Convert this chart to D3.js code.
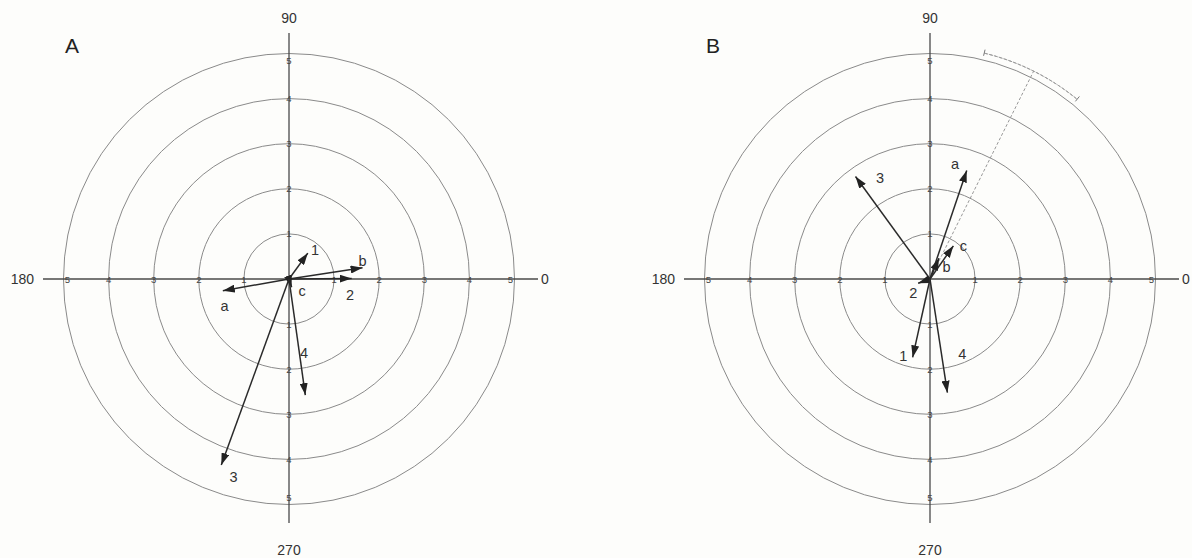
<!DOCTYPE html>
<html><head><meta charset="utf-8">
<script src="https://cdn.jsdelivr.net/npm/d3@7"></script>
<style>html,body{margin:0;padding:0;background:#fdfdfb;}svg{display:block;}</style>
</head><body>
<svg id="chart" width="1192" height="558"></svg>
<script>
// ---- data ----
const ringValues = [1, 2, 3, 4, 5];
const tickLabels = ["1", "2", "3", "4", "5"];
const directionLabels = ["0", "90", "180", "270"];
const panelNames = ["A", "B"];

// Panel A vectors: magnitude, direction (degrees)
const vecNamesA = ["1", "b", "2", "a", "c", "4", "3"];
const vecMagA   = [0.71, 1.65, 1.39, 1.49, 0.19, 2.60, 4.39];
const vecAngA   = [54, 8.7, 0.5, 190, 288, 278, 250];
// label anchor in polar data coords
const lblMagA   = [0.86, 1.68, 1.40, 1.55, 0.39, 1.68, 4.55];
const lblAngA   = [48, 14, 345, 202.6, 318.7, 281.4, 254.3];

// Panel B vectors
const vecNamesB = ["3", "a", "c", "b", "2", "1", "4"];
const vecMagB   = [2.81, 2.54, 0.90, 0.50, 0.28, 1.78, 2.55];
const vecAngB   = [126, 71.3, 54.8, 66.5, 200, 257.5, 278.7];
const lblMagB   = [2.49, 2.62, 1.04, 0.45, 0.49, 1.81, 1.81];
const lblAngB   = [116.4, 77.8, 44.7, 35, 221, 250.9, 293.3];

// Panel B mean direction with dispersion arc
const meanAngB = 63.5;
const meanArcRange = [50.7, 76.5];
const meanArcRadius = 5.15;

// ---- drawing ----
const svg = d3.select("#chart");
const centers = [[289, 279], [930, 279]];
const r = d3.scaleLinear().domain([0, 5]).range([0, 225.5]);
const axisExt = 246;
const FONT = "Liberation Sans, Arial, sans-serif";

const defs = svg.append("defs");
defs.append("marker").attr("id", "head")
  .attr("viewBox", "0 0 12 8").attr("refX", 12).attr("refY", 4)
  .attr("markerWidth", 12).attr("markerHeight", 8)
  .attr("markerUnits", "userSpaceOnUse").attr("orient", "auto")
  .append("path").attr("d", "M0,0 L12,4 L0,8 Z").attr("fill", "#222");

function pol(m, deg) {
  const a = deg * Math.PI / 180;
  return [r(m) * Math.cos(a), -r(m) * Math.sin(a)];
}

const panels = [
  {name: panelNames[0], names: vecNamesA, mag: vecMagA, ang: vecAngA, lm: lblMagA, la: lblAngA},
  {name: panelNames[1], names: vecNamesB, mag: vecMagB, ang: vecAngB, lm: lblMagB, la: lblAngB}
];

panels.forEach((p, i) => {
  const [cx, cy] = centers[i];
  const g = svg.append("g").attr("transform", `translate(${cx},${cy})`);

  // rings
  g.selectAll("circle.ring").data(ringValues).enter().append("circle")
    .attr("r", d => r(d)).attr("fill", "none")
    .attr("stroke", "#8a8a8a").attr("stroke-width", 1);

  // axes
  g.append("line").attr("x1", -axisExt).attr("x2", axisExt + 3).attr("y1", 0).attr("y2", 0)
    .attr("stroke", "#4a4a4a").attr("stroke-width", 1.3);
  g.append("line").attr("x1", 0).attr("x2", 0).attr("y1", -axisExt).attr("y2", axisExt - 2)
    .attr("stroke", "#4a4a4a").attr("stroke-width", 1.3);

  // tick labels on axes
  const tk = g.append("g").attr("font-family", FONT)
    .attr("font-size", 9.5).attr("fill", "#444").attr("text-anchor", "middle");
  [[1, 0], [-1, 0], [0, 1], [0, -1]].forEach(([sx, sy]) => {
    ringValues.forEach((v, k) => {
      const inset = (v === 5 && sy !== 0) ? 7 : (v === 5 ? 4 : 0);
      tk.append("text")
        .attr("x", sx * (r(v) - (sx !== 0 ? inset : 0)))
        .attr("y", sy * (r(v) - (sy !== 0 ? inset : 0)) + 3.5)
        .text(tickLabels[k]);
    });
  });

  // direction labels
  const dl = g.append("g").attr("font-family", FONT)
    .attr("font-size", 14).attr("fill", "#333");
  dl.append("text").attr("x", axisExt + 6).attr("y", 5).attr("text-anchor", "start").text(directionLabels[0]);
  dl.append("text").attr("x", 0).attr("y", -axisExt - 10).attr("text-anchor", "middle").text(directionLabels[1]);
  dl.append("text").attr("x", -axisExt - 9).attr("y", 5).attr("text-anchor", "end").text(directionLabels[2]);
  dl.append("text").attr("x", 0).attr("y", axisExt + 30).attr("text-anchor", "middle").text(directionLabels[3]);

  // panel letter
  svg.append("text").attr("x", cx - 224).attr("y", 53)
    .attr("font-family", FONT).attr("font-size", 21)
    .attr("fill", "#222").text(p.name);

  // mean direction (panel B)
  if (i === 1) {
    const dash = g.append("g").attr("stroke", "#999").attr("stroke-width", 1)
      .attr("fill", "none");
    const e = pol(meanArcRadius, meanAngB);
    dash.append("line").attr("x1", 0).attr("y1", 0).attr("x2", e[0]).attr("y2", e[1])
      .attr("stroke-dasharray", "3,2");
    const arc = d3.arc().innerRadius(r(meanArcRadius)).outerRadius(r(meanArcRadius))
      .startAngle((90 - meanArcRange[1]) * Math.PI / 180)
      .endAngle((90 - meanArcRange[0]) * Math.PI / 180);
    dash.append("path").attr("d", arc()).attr("stroke-dasharray", "3,2");
    meanArcRange.forEach(a => {
      const p1 = pol(meanArcRadius - 0.06, a), p2 = pol(meanArcRadius + 0.08, a);
      dash.append("line").attr("x1", p1[0]).attr("y1", p1[1]).attr("x2", p2[0]).attr("y2", p2[1])
        .attr("stroke", "#777");
    });
  }

  // vectors
  p.names.forEach((n, k) => {
    const t = pol(p.mag[k], p.ang[k]);
    g.append("line").attr("x1", 0).attr("y1", 0).attr("x2", t[0]).attr("y2", t[1])
      .attr("stroke", "#2a2a2a").attr("stroke-width", 1.5)
      .attr("marker-end", "url(#head)");
    const l = pol(p.lm[k], p.la[k]);
    g.append("text").attr("x", l[0]).attr("y", l[1] + 5).attr("text-anchor", "middle")
      .attr("font-family", FONT).attr("font-size", 14.5)
      .attr("fill", "#333").text(n);
  });
});
</script>
</body></html>
